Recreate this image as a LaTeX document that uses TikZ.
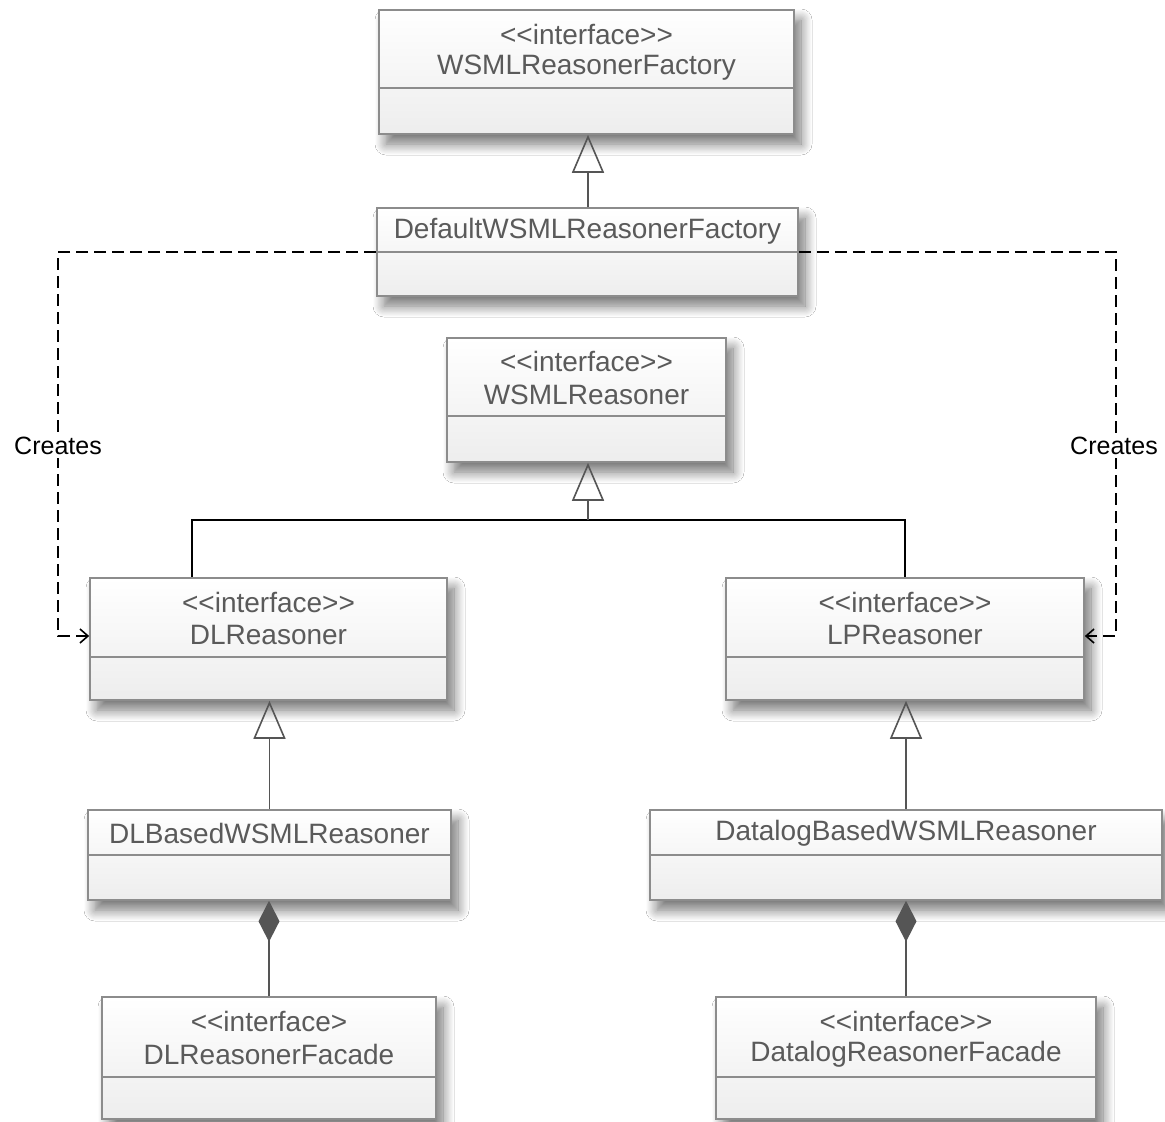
\documentclass[tikz,border=0pt]{standalone}
\usepackage{fontspec}
\newfontfamily\umlfont{Liberation Sans}[Ligatures=TeXOff]
\usetikzlibrary{arrows.meta,shadows.blur,calc}
\definecolor{boxborder}{HTML}{8C8C8C}
\definecolor{boxtext}{HTML}{5A5A5A}
\definecolor{linegray}{HTML}{555555}
\begin{document}
\begin{tikzpicture}[x=1pt,y=-1pt,
  umlbox/.style={draw=boxborder, line width=1.6pt, inner sep=0pt,
    top color=white, bottom color=black!7,
    blur shadow={shadow xshift=7pt, shadow yshift=-10pt, shadow blur radius=11pt, shadow blur steps=12, shadow opacity=55}},
  divider/.style={draw=boxborder, line width=1.5pt},
  txt/.style={font=\umlfont\fontsize{28}{30}\selectfont, text=boxtext, inner sep=0pt, anchor=center},
  lbl/.style={font=\umlfont\fontsize{25}{27}\selectfont, text=black, fill=white, inner xsep=1pt, inner ysep=3pt},
  gen/.style={draw=linegray, line width=1.8pt, -{Triangle[open, length=38pt, width=32pt, line width=1.6pt]}},
  comp/.style={draw=linegray, line width=1.8pt, -{Diamond[length=41pt, width=21pt, fill=linegray]}},
  dep/.style={draw=black, line width=1.8pt, dash pattern=on 12pt off 6pt, -{Straight Barb[length=8pt, width=14pt, line width=1.6pt]}},
  tree/.style={draw=black, line width=1.8pt}
]
\useasboundingbox[fill=white] (0,0) rectangle (1165,1122);

% boxes
\node[umlbox, minimum width=415pt, minimum height=124pt] (wrf) at (586.5,72) {};
\node[umlbox, minimum width=421pt, minimum height=88pt] (def) at (587.5,252) {};
\node[umlbox, minimum width=279pt, minimum height=124pt] (wr) at (586.5,400) {};
\node[umlbox, minimum width=357pt, minimum height=122pt] (dl) at (268.5,639) {};
\node[umlbox, minimum width=358pt, minimum height=122pt] (lp) at (905,639) {};
\node[umlbox, minimum width=363pt, minimum height=90pt] (dlb) at (269.5,855) {};
\node[umlbox, minimum width=512pt, minimum height=90pt] (dab) at (906,855) {};
\node[umlbox, minimum width=334pt, minimum height=122pt] (dlf) at (269,1058) {};
\node[umlbox, minimum width=380pt, minimum height=122pt] (daf) at (906,1058) {};

% dividers
\draw[divider] (wrf.west |- 0,88) -- (wrf.east |- 0,88);
\draw[divider] (def.west |- 0,252) -- (def.east |- 0,252);
\draw[divider] (wr.west |- 0,416) -- (wr.east |- 0,416);
\draw[divider] (dl.west |- 0,657) -- (dl.east |- 0,657);
\draw[divider] (lp.west |- 0,657) -- (lp.east |- 0,657);
\draw[divider] (dlb.west |- 0,855) -- (dlb.east |- 0,855);
\draw[divider] (dab.west |- 0,855) -- (dab.east |- 0,855);
\draw[divider] (dlf.west |- 0,1077) -- (dlf.east |- 0,1077);
\draw[divider] (daf.west |- 0,1077) -- (daf.east |- 0,1077);

% texts
\node[txt] (wrf-s) at (586.5,34) {<<interface>>};
\node[txt] (wrf-n) at (586.5,68) {WSMLReasonerFactory};
\node[txt] (def-n) at (587.5,231) {DefaultWSMLReasonerFactory};
\node[txt] (wr-s) at (586.5,361) {<<interface>>};
\node[txt] (wr-n) at (586.5,395) {WSMLReasoner};
\node[txt] (dl-s) at (268.5,602) {<<interface>>};
\node[txt] (dl-n) at (268.5,635) {DLReasoner};
\node[txt] (lp-s) at (905,602) {<<interface>>};
\node[txt] (lp-n) at (905,635) {LPReasoner};
\node[txt] (dlb-n) at (269.5,833) {DLBasedWSMLReasoner};
\node[txt] (dab-n) at (906,833) {DatalogBasedWSMLReasoner};
\node[txt] (dlf-s) at (269,1021) {<<interface>};
\node[txt] (dlf-n) at (269,1054) {DLReasonerFacade};
\node[txt] (daf-s) at (906,1021) {<<interface>>};
\node[txt] (daf-n) at (906,1054) {DatalogReasonerFacade};

% generalizations
\draw[gen] ([xshift=0.5pt]def.north) -- ([xshift=0.5pt]def.north |- wrf.south);
\coordinate (bar) at (588,520);
\draw[tree] (dl.north -| 192,0) |- (bar) -| (lp.north);
\draw[gen] (bar) -- (bar |- wr.south);
\draw[gen] (dlb.north) -- (dlb.north |- dl.south);
\draw[gen] (dab.north) -- (dab.north |- lp.south);

% compositions
\draw[comp] (dlf.north) -- (dlf.north |- dlb.south);
\draw[comp] (daf.north) -- (daf.north |- dab.south);

% dependencies
\draw[dep] (def.west) -| ([xshift=-31pt,yshift=3pt]dl.west) -- ([yshift=3pt]dl.west);
\draw[dep] (def.east) -| ([xshift=31pt,yshift=3pt]lp.east) -- ([yshift=3pt]lp.east);
\node[lbl] (cl) at (58,446) {Creates};
\node[lbl] (cr) at (1114,446) {Creates};
\end{tikzpicture}
\end{document}
